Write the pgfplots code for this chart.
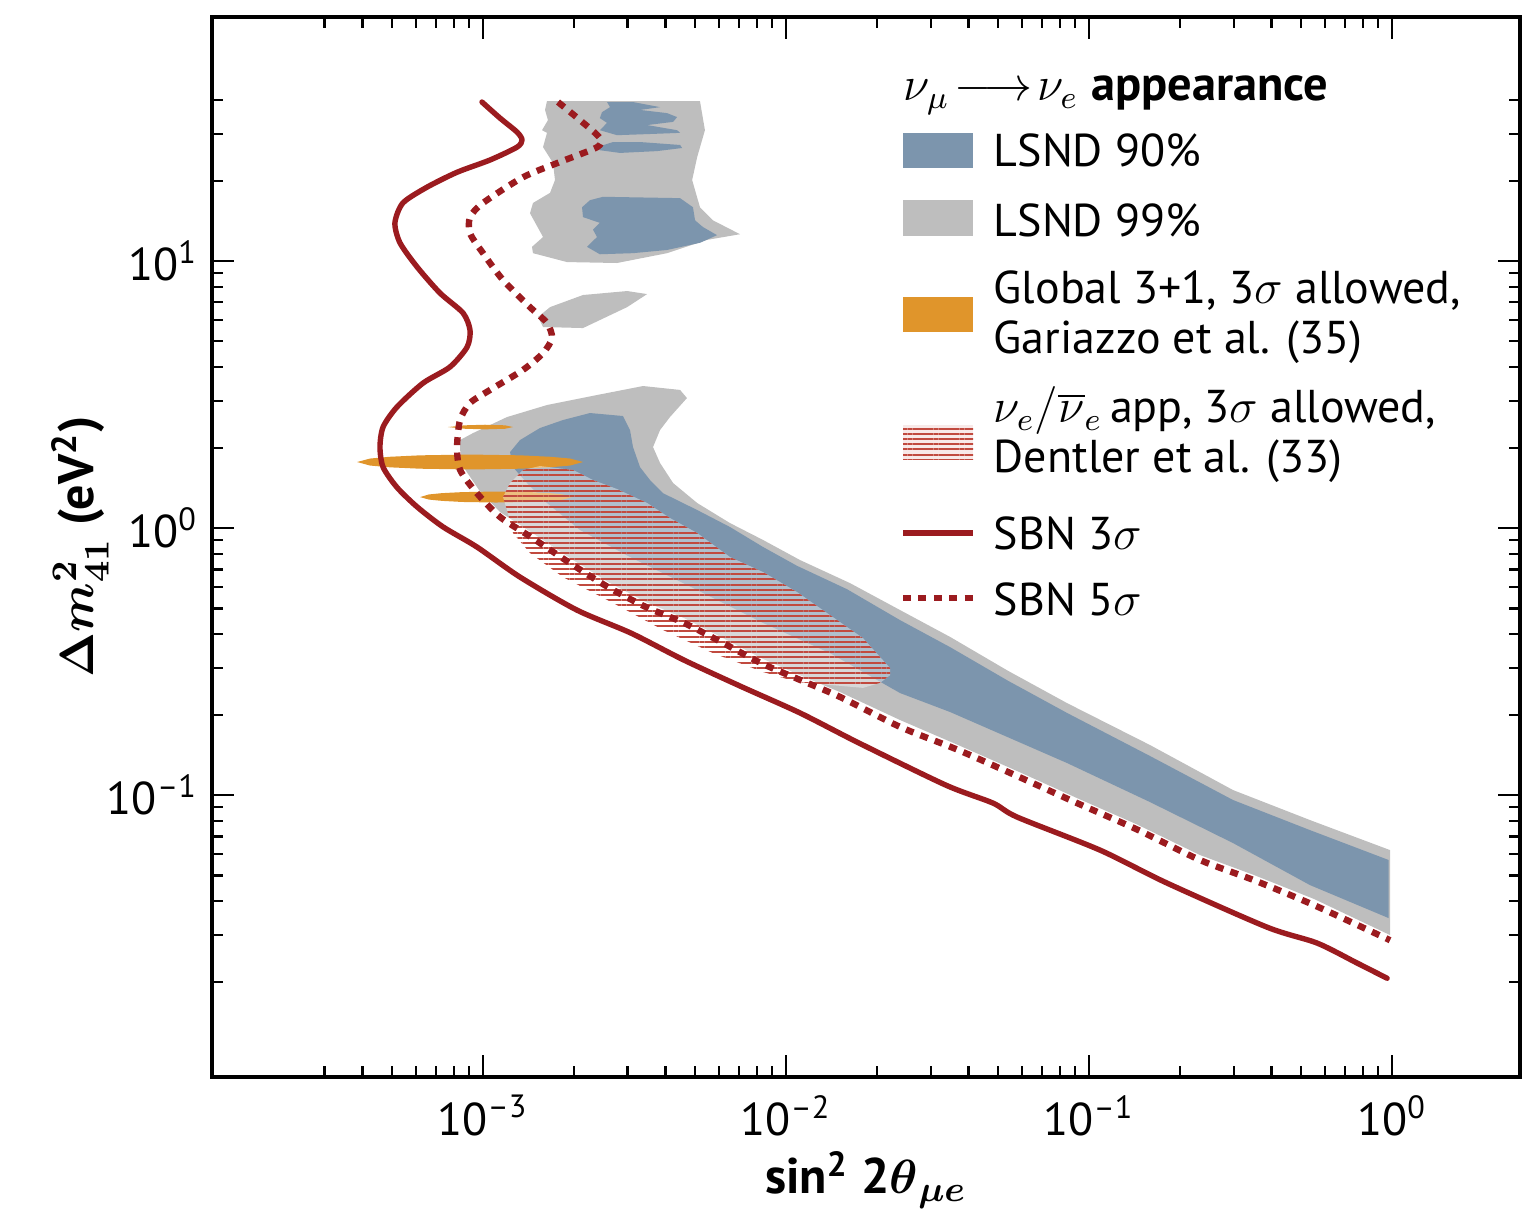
\documentclass[border=0pt]{standalone}
\usepackage{amsmath}
\usepackage{fontspec}
\setmainfont{PT Sans}
\usepackage{pgfplots}
\pgfplotsset{compat=1.18}
\usetikzlibrary{patterns.meta}
\definecolor{lsndblue}{HTML}{7C95AD}
\definecolor{lsndgray}{HTML}{BEBEBE}
\definecolor{globorange}{HTML}{E0952B}
\definecolor{sbnred}{HTML}{9B1B1F}
\definecolor{hatchred}{HTML}{C14A3F}
\tikzset{
  hatchlines/.style={pattern={Lines[angle=0,distance=1.3pt,line width=0.52pt]}, pattern color=hatchred},
  sbnsolid/.style={sbnred, line width=1.35pt, line join=round, line cap=round},
  sbndot/.style={sbnred, line width=1.6pt, dash pattern=on 2pt off 1.85pt},
}
\begin{document}
\begin{tikzpicture}
\begin{axis}[
  at={(0,0)}, anchor=south west,
  scale only axis, width=327pt, height=265pt,
  xmode=log, ymode=log,
  xmin=1.275e-4, xmax=2.645, ymin=0.00879, ymax=82,
  axis line style={line width=0.8pt},
  tick align=inside, xtick pos=both, ytick pos=both,
  every tick/.style={black, line width=0.55pt},
  major tick length=5.6pt, minor tick length=2.8pt,
  xtick={1e-3,1e-2,1e-1,1},
  xticklabels={10\textsuperscript{–3},10\textsuperscript{–2},10\textsuperscript{–1},10\textsuperscript{0}},
  ytick={0.1,1,10},
  yticklabels={10\textsuperscript{–1},10\textsuperscript{0},10\textsuperscript{1}},
  minor xtick={3e-4,4e-4,5e-4,6e-4,7e-4,8e-4,9e-4,2e-3,3e-3,4e-3,5e-3,6e-3,7e-3,8e-3,9e-3,2e-2,3e-2,4e-2,5e-2,6e-2,7e-2,8e-2,9e-2,0.2,0.3,0.4,0.5,0.6,0.7,0.8,0.9},
  minor ytick={0.02,0.03,0.04,0.05,0.06,0.07,0.08,0.09,0.2,0.3,0.4,0.5,0.6,0.7,0.8,0.9,2,3,4,5,6,7,8,9,20,30,40},
  tick label style={font=\fontsize{11.5}{13}\selectfont},
  xticklabel style={yshift=-1pt},
  xlabel={\textbf{sin\textsuperscript{2} 2$\boldsymbol{\theta}_{\boldsymbol{\mu e}}$}},
  ylabel={\textbf{$\boldsymbol{\Delta m^{\mathbf{2}}_{\mathbf{41}}}$ (eV\textsuperscript{2})}},
  label style={font=\fontsize{12.5}{14}\selectfont},
  xlabel style={at={(axis description cs:0.5,-0.097)}, anchor=center},
  ylabel style={at={(axis description cs:-0.101,0.5)}, anchor=center},
]
% LSND 99% main band
\addplot[fill=lsndgray, draw=none] coordinates {
(8.40e-4,2.136) (9.27e-4,2.268) (1.200e-3,2.604) (1.626e-3,2.888) (2.378e-3,3.149)
(3.374e-3,3.403) (4.47e-3,3.29) (4.71e-3,3.068) (4.14e-3,2.604) (3.84e-3,2.328)
(3.64e-3,2.01) (3.84e-3,1.752) (4.24e-3,1.474) (5.09e-3,1.241) (6.53e-3,1.044)
(8.40e-3,0.902) (1.112e-2,0.759) (1.626e-2,0.622) (2.378e-2,0.493) (3.48e-2,0.391)
(5.40e-2,0.292) (8.46e-2,0.221) (0.159,0.1539) (0.2987,0.1044) (0.536,0.0806) (0.985,0.0622)
(0.985,0.0299) (0.553,0.0408) (0.350,0.0502) (0.2324,0.0596) (0.1430,0.0779)
(9.13e-2,0.0974) (5.79e-2,0.1230) (3.70e-2,0.1539) (2.378e-2,0.191) (1.508e-2,0.243)
(1.112e-2,0.281) (8.27e-3,0.326) (6.20e-3,0.387) (4.61e-3,0.460) (3.45e-3,0.528)
(2.585e-3,0.628) (1.937e-3,0.772) (1.440e-3,0.966) (1.138e-3,1.148) (9.70e-4,1.388)
(8.66e-4,1.678) (8.40e-4,1.96)
} -- cycle;
% LSND 99% top block
\addplot[fill=lsndgray, draw=none] coordinates {
(1.626e-3,39.7) (5.20e-3,39.7) (5.40e-3,30.9) (5.09e-3,24.5) (4.90e-3,20.1)
(5.20e-3,15.9) (5.74e-3,14.2) (7.05e-3,12.6) (5.49e-3,12.0) (4.05e-3,10.7)
(2.768e-3,9.83) (1.893e-3,9.91) (1.462e-3,10.7) (1.451e-3,11.3) (1.578e-3,12.3)
(1.429e-3,15.1) (1.462e-3,16.5) (1.664e-3,18.0) (1.728e-3,20.1) (1.702e-3,23.3)
(1.578e-3,26.7) (1.626e-3,30.2) (1.566e-3,30.9) (1.638e-3,33.7) (1.602e-3,36.8)
} -- cycle;
% LSND 99% sliver
\addplot[fill=lsndgray, draw=none] coordinates {
(3.48e-3,7.52) (2.99e-3,7.72) (2.138e-3,7.46) (1.664e-3,6.72) (1.519e-3,6.17)
(1.578e-3,5.66) (2.138e-3,5.61) (2.43e-3,6.01) (2.99e-3,6.72)
} -- cycle;
% LSND 90% main band
\addplot[fill=lsndblue, draw=none] coordinates {
(1.228e-3,1.926) (1.325e-3,2.136) (1.542e-3,2.369) (1.837e-3,2.538) (2.255e-3,2.696)
(2.897e-3,2.627) (3.056e-3,2.328) (3.126e-3,2.01) (3.298e-3,1.69) (3.557e-3,1.513)
(3.93e-3,1.35) (5.09e-3,1.168) (6.53e-3,1.009) (8.40e-3,0.849) (1.087e-2,0.722)
(1.590e-2,0.590) (2.378e-2,0.452) (3.48e-2,0.358) (5.40e-2,0.268) (8.46e-2,0.203) (0.159,0.140)
(0.2987,0.0958) (0.536,0.0739) (0.975,0.0571)
(0.975,0.0346) (0.536,0.0460) (0.2987,0.0661) (0.159,0.0941) (8.46e-2,0.1318)
(3.48e-2,0.2046) (2.378e-2,0.241) (1.397e-2,0.340) (8.40e-3,0.441) (5.09e-3,0.586)
(3.056e-3,0.779) (2.09e-3,0.983) (1.626e-3,1.241) (1.397e-3,1.474) (1.256e-3,1.69)
} -- cycle;
% LSND 90% top blobs
\addplot[fill=lsndblue, draw=none] coordinates {
(2.255e-3,16.9) (2.489e-3,17.4) (4.47e-3,17.2) (4.93e-3,15.9) (5.01e-3,14.2)
(5.32e-3,13.4) (5.92e-3,12.5) (5.20e-3,11.7) (4.05e-3,11.0) (3.126e-3,10.7)
(2.43e-3,10.6) (2.204e-3,11.3) (2.378e-3,12.3) (2.307e-3,13.1) (2.43e-3,13.9)
(2.138e-3,14.6) (2.122e-3,15.9)
} -- cycle;
\addplot[fill=lsndblue, draw=none] coordinates {
(2.378e-3,26.7) (2.685e-3,27.9) (3.298e-3,27.9) (4.47e-3,27.2) (4.54e-3,26.5)
(3.75e-3,25.8) (2.832e-3,25.4) (2.43e-3,26.0)
} -- cycle;
\addplot[fill=lsndblue, draw=none] coordinates {
(2.566e-3,39.4) (3.126e-3,39.4) (3.84e-3,37.7) (3.298e-3,36.8) (4.05e-3,35.8)
(4.37e-3,34.6) (4.24e-3,33.2) (3.48e-3,32.3) (4.37e-3,30.9) (4.47e-3,30.2)
(3.557e-3,29.9) (2.768e-3,29.6) (2.43e-3,30.9) (2.566e-3,32.9) (2.43e-3,34.3)
(2.470e-3,36.1) (2.625e-3,37.7)
} -- cycle;
% Global 3+1 (orange)
\addplot[fill=globorange, draw=none] coordinates {
(3.84e-4,1.767) (4.24e-4,1.821) (4.93e-4,1.849) (6.20e-4,1.872) (9.06e-4,1.885)
(1.325e-3,1.872) (1.664e-3,1.849) (1.937e-3,1.821) (2.138e-3,1.767)
(1.937e-3,1.714) (1.664e-3,1.688) (1.325e-3,1.668) (9.06e-4,1.657)
(6.20e-4,1.668) (4.93e-4,1.688) (4.24e-4,1.714)
} -- cycle;
\addplot[fill=globorange, draw=none] coordinates {
(6.20e-4,1.306) (6.63e-4,1.336) (7.32e-4,1.351) (8.53e-4,1.363) (1.104e-3,1.370)
(1.429e-3,1.363) (1.664e-3,1.351) (1.837e-3,1.336) (1.966e-3,1.306)
(1.837e-3,1.278) (1.664e-3,1.264) (1.429e-3,1.252) (1.104e-3,1.246)
(8.53e-4,1.252) (7.32e-4,1.264) (6.63e-4,1.278)
} -- cycle;
\addplot[fill=globorange, draw=none] coordinates {
(7.66e-4,2.389) (8.72e-4,2.425) (1.015e-3,2.437) (1.182e-3,2.425) (1.256e-3,2.389)
(1.182e-3,2.354) (1.015e-3,2.342) (8.72e-4,2.354)
} -- cycle;
% Dentler et al. hatched region
\addplot[draw=none, fill=white, fill opacity=0.4] coordinates {
(1.542e-3,1.707) (1.981e-3,1.65) (2.307e-3,1.513) (2.768e-3,1.400) (3.48e-3,1.241)
(4.14e-3,1.090) (5.09e-3,0.958) (6.53e-3,0.779) (8.40e-3,0.684) (1.087e-2,0.576)
(1.397e-2,0.472) (1.795e-2,0.387) (2.043e-2,0.329) (2.204e-2,0.299) (2.204e-2,0.281)
(2.043e-2,0.263) (1.795e-2,0.252) (1.087e-2,0.265) (8.40e-3,0.289) (5.74e-3,0.340)
(3.93e-3,0.415) (2.685e-3,0.524) (1.837e-3,0.655) (1.429e-3,0.806) (1.256e-3,0.958)
(1.200e-3,1.168) (1.164e-3,1.306) (1.228e-3,1.474) (1.355e-3,1.65)
} -- cycle;
\addplot[draw=none, hatchlines] coordinates {
(1.542e-3,1.707) (1.981e-3,1.65) (2.307e-3,1.513) (2.768e-3,1.400) (3.48e-3,1.241)
(4.14e-3,1.090) (5.09e-3,0.958) (6.53e-3,0.779) (8.40e-3,0.684) (1.087e-2,0.576)
(1.397e-2,0.472) (1.795e-2,0.387) (2.043e-2,0.329) (2.204e-2,0.299) (2.204e-2,0.281)
(2.043e-2,0.263) (1.795e-2,0.252) (1.087e-2,0.265) (8.40e-3,0.289) (5.74e-3,0.340)
(3.93e-3,0.415) (2.685e-3,0.524) (1.837e-3,0.655) (1.429e-3,0.806) (1.256e-3,0.958)
(1.200e-3,1.168) (1.164e-3,1.306) (1.228e-3,1.474) (1.355e-3,1.65)
} -- cycle;
% SBN 5 sigma (dotted)
\addplot[sbndot, smooth, tension=0.45] coordinates {
(1.768e-3,39.4) (2.09e-3,33.7) (2.43e-3,28.9) (2.38e-3,26.7) (1.796e-3,23.5)
(1.355e-3,20.6) (1.0e-3,16.5) (9.06e-4,14.6) (9.06e-4,12.7) (1.0e-3,10.7)
(1.164e-3,8.49) (1.429e-3,6.72) (1.626e-3,5.86) (1.689e-3,5.15) (1.578e-3,4.52)
(1.355e-3,3.91) (1.055e-3,3.29) (9.06e-4,2.94) (8.40e-4,2.54) (8.21e-4,2.01)
(8.40e-4,1.65) (9.55e-4,1.35) (1.138e-3,1.10) (1.440e-3,0.925) (1.937e-3,0.739)
(2.585e-3,0.601) (3.45e-3,0.506) (4.61e-3,0.441) (6.20e-3,0.371) (8.27e-3,0.312)
(1.112e-2,0.270) (1.508e-2,0.233) (2.378e-2,0.180) (3.70e-2,0.1475) (5.79e-2,0.1178)
(9.13e-2,0.0933) (0.1430,0.0746) (0.2324,0.0571) (0.350,0.0480) (0.553,0.0387)
(0.985,0.0286)
};
% SBN 3 sigma (solid)
\addplot[sbnsolid, smooth, tension=0.45] coordinates {
(9.92e-4,39.4) (1.138e-3,34.3) (1.295e-3,30.4) (1.345e-3,28.4) (1.295e-3,26.7)
(1.055e-3,23.9) (8.21e-4,21.5) (6.53e-4,18.9) (5.44e-4,16.5) (5.12e-4,13.9)
(5.32e-4,11.7) (6.06e-4,9.50) (7.21e-4,7.59) (8.59e-4,6.39) (9.06e-4,5.51)
(8.86e-4,4.76) (7.78e-4,4.01) (6.34e-4,3.49) (5.20e-4,2.84) (4.68e-4,2.39)
(4.57e-4,2.01) (4.68e-4,1.69) (5.20e-4,1.42) (6.06e-4,1.20) (7.38e-4,1.01)
(9.55e-4,0.849) (1.325e-3,0.655) (2.04e-3,0.493) (3.08e-3,0.404) (4.61e-3,0.320)
(7.16e-3,0.254) (1.112e-2,0.203) (1.741e-2,0.1566) (3.37e-2,0.1089) (4.82e-2,0.0933)
(5.79e-2,0.0827) (0.1087,0.0622) (0.1809,0.0468) (0.387,0.0320) (0.566,0.0279)
(0.766,0.0235) (0.963,0.0206)
};
\end{axis}
% legend
\begin{scope}[font=\fontsize{11.5}{12.5}\selectfont]
\node[anchor=base west, inner sep=0pt, font=\fontsize{12.1}{13}\selectfont] at (172.75pt,244pt) {$\nu_{\mu}\!\longrightarrow\!\nu_{e}$\ \textbf{appearance}};
\fill[lsndblue] (172.75pt,227.25pt) rectangle (190.25pt,236pt);
\node[anchor=west, inner sep=0pt] at (195.25pt,231.75pt) {LSND 90\%};
\fill[lsndgray] (172.75pt,210.25pt) rectangle (190.25pt,219.25pt);
\node[anchor=west, inner sep=0pt] at (195.25pt,214.25pt) {LSND 99\%};
\fill[globorange] (172.75pt,186.25pt) rectangle (190.25pt,195pt);
\node[anchor=west, inner sep=0pt, align=left] at (195.25pt,190pt) {Global 3+1, 3$\sigma$ allowed,\\Gariazzo et al. (35)};
\fill[hatchred!12] (172.75pt,154.25pt) rectangle (190.25pt,163pt);
\fill[hatchlines] (172.75pt,154.25pt) rectangle (190.25pt,163pt);
\node[anchor=west, inner sep=0pt, align=left] at (195.25pt,160.5pt) {$\nu_e/\overline{\nu}_e$\,app, 3$\sigma$ allowed,\\Dentler et al. (33)};
\draw[sbnred, line width=1.35pt] (172.75pt,136pt) -- (190.25pt,136pt);
\node[anchor=west, inner sep=0pt] at (195.25pt,136pt) {SBN 3$\sigma$};
\draw[sbndot] (172.75pt,119.75pt) -- (190.25pt,119.75pt);
\node[anchor=west, inner sep=0pt] at (195.25pt,119.5pt) {SBN 5$\sigma$};
\end{scope}
\pgfresetboundingbox
\path[use as bounding box] (-53pt,-35.5pt) rectangle (331.25pt,269.25pt);
\end{tikzpicture}
\end{document}
